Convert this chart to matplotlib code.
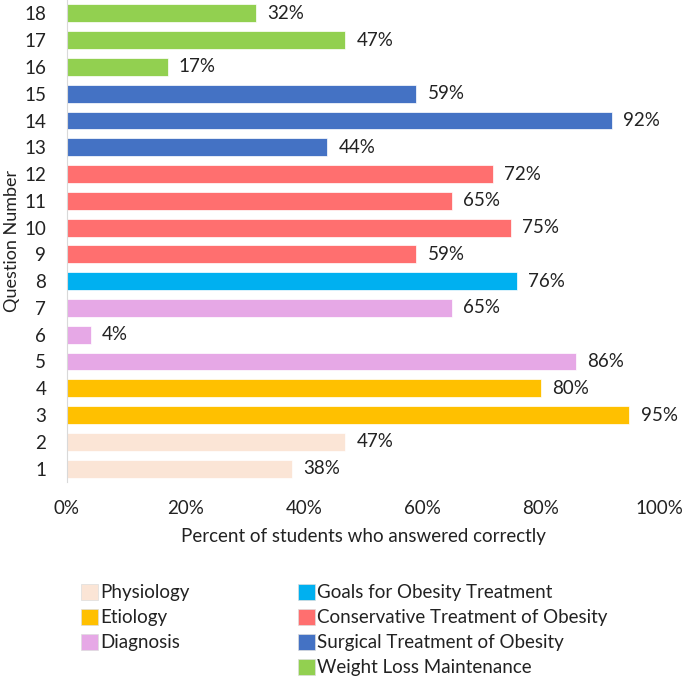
import matplotlib.pyplot as plt
from matplotlib.patches import Patch

plt.rcParams["font.family"] = ["Lato", "DejaVu Sans"]

questions = list(range(1, 19))
percent_correct = [38, 47, 95, 80, 86, 4, 65, 76, 59, 75, 65, 72, 44, 92, 59, 17, 47, 32]
topics = [
    "Physiology", "Physiology",
    "Etiology", "Etiology",
    "Diagnosis", "Diagnosis", "Diagnosis",
    "Goals for Obesity Treatment",
    "Conservative Treatment of Obesity", "Conservative Treatment of Obesity",
    "Conservative Treatment of Obesity", "Conservative Treatment of Obesity",
    "Surgical Treatment of Obesity", "Surgical Treatment of Obesity",
    "Surgical Treatment of Obesity",
    "Weight Loss Maintenance", "Weight Loss Maintenance", "Weight Loss Maintenance",
]
topic_colors = {
    "Physiology": "#FBE5D6",
    "Etiology": "#FFC000",
    "Diagnosis": "#E6A8E6",
    "Goals for Obesity Treatment": "#00B0F0",
    "Conservative Treatment of Obesity": "#FF6F6F",
    "Surgical Treatment of Obesity": "#4472C4",
    "Weight Loss Maintenance": "#92D050",
}
x_ticks = [0, 20, 40, 60, 80, 100]
fs = 13.5

fig = plt.figure(figsize=(6.85, 6.78), dpi=100)
ax = fig.add_axes([67 / 685, 1 - 482 / 678, 592 / 685, 482 / 678])

colors = [topic_colors[t] for t in topics]
bars = ax.barh(questions, percent_correct, height=0.67, color=colors,
               edgecolor="white", linewidth=0.5)
for bar, value in zip(bars, percent_correct):
    ax.annotate(f"{value}%", (bar.get_width(), bar.get_y() + bar.get_height() / 2),
                xytext=(8, 0), textcoords="offset points", va="center", ha="left",
                fontsize=fs, color="#222222")

ax.set_xlim(0, 100)
ax.set_ylim(0.5, 18.5)
ax.set_yticks(questions)
ax.set_yticklabels([str(q) for q in questions])
ax.set_xticks(x_ticks)
ax.set_xticklabels([f"{t}%" for t in x_ticks])
ax.tick_params(axis="both", length=0, labelsize=fs, colors="#222222")
ax.tick_params(axis="x", pad=13)
ax.tick_params(axis="y", pad=15)
for side in ["top", "right", "bottom"]:
    ax.spines[side].set_visible(False)
ax.spines["left"].set_color("#D9D9D9")

ax.set_xlabel("Percent of students who answered correctly", fontsize=fs, color="#222222",
              labelpad=8)
ax.set_ylabel("Question Number", fontsize=13, color="#222222")
ax.yaxis.set_label_coords((20 - 67) / 592, 0.5)

names = list(topic_colors)
left_handles = [Patch(facecolor=topic_colors[n], edgecolor="#DDDDDD", linewidth=0.5)
                for n in names[:3]]
right_handles = [Patch(facecolor=topic_colors[n], edgecolor="#DDDDDD", linewidth=0.5)
                 for n in names[3:]]
legend_style = dict(frameon=False, fontsize=fs, handlelength=0.95, handleheight=0.95,
                    handletextpad=0.1, labelspacing=0.4, borderaxespad=0,
                    labelcolor="#222222")
fig.legend(left_handles, names[:3], loc="upper left",
           bbox_to_anchor=(73 / 685, 1 - 576 / 678), **legend_style)
fig.legend(right_handles, names[3:], loc="upper left",
           bbox_to_anchor=(290 / 685, 1 - 576 / 678), **legend_style)

fig.savefig("out.png", dpi=100)
